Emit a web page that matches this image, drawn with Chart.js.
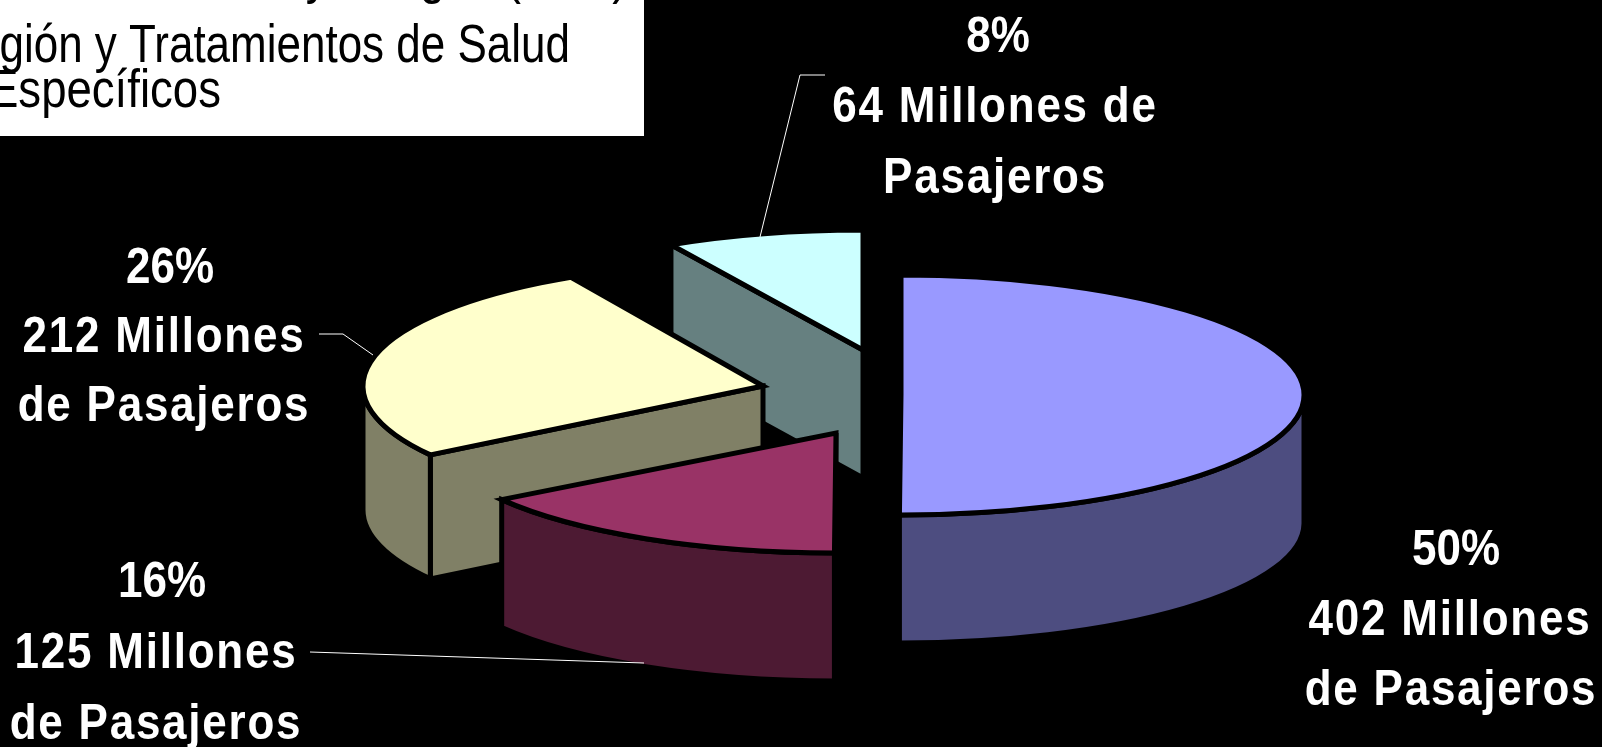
<!DOCTYPE html>
<html><head><meta charset="utf-8">
<style>html,body{margin:0;padding:0;background:#000;overflow:hidden}canvas{display:block}</style>
<script src="https://cdn.jsdelivr.net/npm/chart.js@4"></script>
</head><body><canvas id="c" width="1602" height="747"></canvas>
<script>
const categories = ['Ocio','Negocios','Familiares y Amigos','Religión y Salud'];
const values = [402,125,212,64];
const percentLabels = ['50%','16%','26%','8%'];
const labelLines = [['402 Millones','de Pasajeros'],['125 Millones','de Pasajeros'],['212 Millones','de Pasajeros'],['64 Millones de','Pasajeros']];
const boxLines = ['Visitas a Familiares y Amigos (VFR),','Religión y Tratamientos de Salud','Específicos'];

const topColors = ['#9999FF','#993366','#FFFFCC','#CCFFFF'];
const wallColors = ['#4D4D80','#4D1A33','#808066','#668080'];
const sliceCenters = [[901,395],[836,433],[763,386],[863,350]];
const sliceRx = [403,402,400,400];
const sliceRy = [120,120,124,120];
const sliceDepth = [128,128,124,128];
const paintOrder = [3,2,1,0];
const labelPos = [
  [[1456,565],[1450,635],[1451,705]],
  [[162,597],[156,668],[156,739]],
  [[170,283],[164,352],[164,421]],
  [[998,52],[995,122],[995,193]]
];
const leaders = [
  [[310,652],[644,663]],
  [[319,334],[343,334],[373,355]],
  [[825,75],[800,75],[760,237]]
];
const boxPos = [[640,-7],[570,62],[221,107]];
const boxScale = [0.86,0.83,0.86];
const EDGE = 5;

function strokeFill(ctx, color){
  ctx.fillStyle = color; ctx.fill();
  ctx.strokeStyle = '#000'; ctx.lineWidth = EDGE; ctx.lineJoin = 'miter'; ctx.stroke();
}
function radialFace(ctx, i, a){
  const [cx,cy] = sliceCenters[i], d = sliceDepth[i];
  const px = cx + sliceRx[i]*Math.cos(a), py = cy + sliceRy[i]*Math.sin(a);
  ctx.beginPath(); ctx.moveTo(cx,cy); ctx.lineTo(px,py); ctx.lineTo(px,py+d); ctx.lineTo(cx,cy+d); ctx.closePath();
  strokeFill(ctx,wallColors[i]);
}
const pie3d = {
  id:'pie3d',
  beforeDraw(chart){ const c=chart.ctx; c.save(); c.fillStyle='#000'; c.fillRect(0,0,chart.width,chart.height); c.restore(); },
  beforeDatasetDraw(chart,args){
    const ctx = chart.ctx, arcs = chart.getDatasetMeta(args.index).data;
    paintOrder.forEach(i=>{
      const arc = arcs[i], [cx,cy] = sliceCenters[i], rx = sliceRx[i], ry = sliceRy[i], d = sliceDepth[i];
      const {startAngle:s,endAngle:e,outerRadius:R,x,y} = arc.getProps(['startAngle','endAngle','outerRadius','x','y'],true);
      if(Math.cos(s) < -1e-6) radialFace(ctx,i,s);
      if(Math.cos(e) > 1e-6) radialFace(ctx,i,e);
      const a0 = Math.max(s,0), a1 = Math.min(e,Math.PI);
      if(a1 > a0){
        ctx.beginPath();
        ctx.ellipse(cx,cy,rx,ry,0,a0,a1);
        ctx.ellipse(cx,cy+d,rx,ry,0,a1,a0,true);
        ctx.closePath();
        strokeFill(ctx,wallColors[i]);
      }
      ctx.save();
      ctx.translate(cx,cy); ctx.scale(rx/R,ry/R); ctx.translate(-x,-y);
      arc.draw(ctx);
      ctx.restore();
      ctx.beginPath(); ctx.moveTo(cx,cy); ctx.ellipse(cx,cy,rx,ry,0,s,e); ctx.closePath();
      ctx.strokeStyle='#000'; ctx.lineWidth=EDGE; ctx.stroke();
    });
    return false;
  },
  afterDraw(chart){
    const ctx = chart.ctx;
    ctx.save();
    ctx.strokeStyle='#fff'; ctx.lineWidth=1;
    leaders.forEach(l=>{ ctx.beginPath(); l.forEach((p,k)=>k?ctx.lineTo(p[0],p[1]):ctx.moveTo(p[0],p[1])); ctx.stroke(); });
    ctx.fillStyle='#fff'; ctx.fillRect(0,0,644,136);
    ctx.fillStyle='#000'; ctx.font='53px "Liberation Sans"'; ctx.textAlign='right'; ctx.textBaseline='alphabetic';
    boxLines.forEach((t,i)=>{ ctx.save(); ctx.translate(boxPos[i][0],boxPos[i][1]); ctx.scale(boxScale[i],1); ctx.fillText(t,0,0); ctx.restore(); });
    ctx.fillStyle='#fff'; ctx.font='bold 50px "Liberation Sans"'; ctx.textAlign='center';
    values.forEach((v,i)=>{
      [percentLabels[i],...labelLines[i]].forEach((t,k)=>{
        const [lx,ly]=labelPos[i][k];
        ctx.save(); ctx.translate(lx,ly); ctx.scale(0.88,1); ctx.letterSpacing = k? '2px':'0px'; ctx.fillText(t,0,0); ctx.restore();
      });
    });
    ctx.restore();
  }
};
new Chart(document.getElementById('c'),{
  type:'pie',
  data:{labels:categories,datasets:[{data:values,backgroundColor:topColors,borderWidth:0}]},
  options:{responsive:false,animation:false,rotation:0,plugins:{legend:{display:false},tooltip:{enabled:false},title:{display:false}},layout:{padding:0}},
  plugins:[pie3d]
});
</script></body></html>
